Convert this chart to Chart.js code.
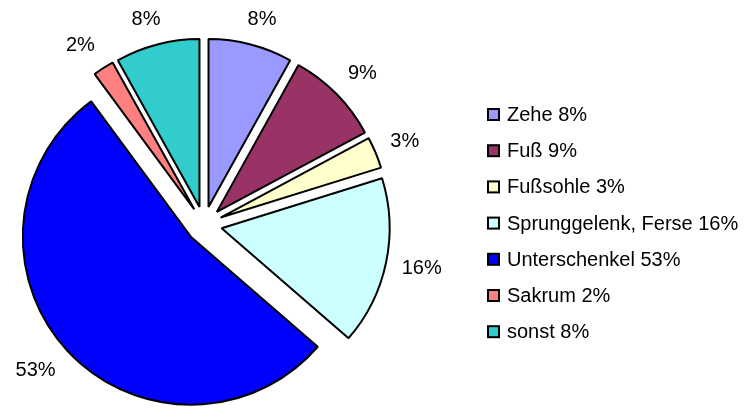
<!DOCTYPE html>
<html>
<head>
<meta charset="utf-8">
<script src="https://cdn.jsdelivr.net/npm/chart.js@4/dist/chart.umd.min.js"></script>
<style>
  body { margin: 0; background: #fff; }
</style>
</head>
<body>
<canvas id="chart" width="747" height="409"></canvas>
<script>
// Verletzungsorte - Anteile

const labels = ['Zehe', 'Fuß', 'Fußsohle', 'Sprunggelenk, Ferse', 'Unterschenkel', 'Sakrum', 'sonst']
const values = [8, 9, 3, 16, 53, 2, 8]
const colors = ['#9999FF', '#993366', '#FFFFCC', '#CCFFFF', '#0000FF', '#FF8080', '#33CCCC']

const FONT = '20px "Liberation Sans", Arial, sans-serif'
const EXPLODE = 18   // px every slice is pulled out from the center

// pull each slice out along its mid angle (excel style "exploded" pie)
const explodePlugin = {
    id: 'explode',
    beforeDatasetsDraw(chart) {
        const area = chart.chartArea
        const cx = (area.left + area.right) / 2
        const cy = (area.top + area.bottom) / 2
        chart.getDatasetMeta(0).data.forEach(arc => {
            const mid = (arc.startAngle + arc.endAngle) / 2
            arc.x = cx + Math.cos(mid) * EXPLODE
            arc.y = cy + Math.sin(mid) * EXPLODE
        })
    }
}

// percent labels outside the slices + legend on the right
const labelPlugin = {
    id: 'pieLabels',
    afterDraw(chart) {
        const ctx = chart.ctx
        const arcs = chart.getDatasetMeta(0).data
        const clamp = v => Math.max(-1, Math.min(1, v))
        ctx.save()
        ctx.font = FONT
        ctx.fillStyle = '#000'
        ctx.textAlign = 'center'
        ctx.textBaseline = 'middle'
        arcs.forEach((arc, i) => {
            const mid = (arc.startAngle + arc.endAngle) / 2
            const dx = Math.cos(mid), dy = Math.sin(mid)
            const r = arc.outerRadius + 16
            const text = values[i] + '%'
            const w = ctx.measureText(text).width
            const x = arc.x + dx * r + clamp(2 * dx) * w / 2
            const y = arc.y + dy * r + clamp(1.5 * dy) * 9
            ctx.fillText(text, x, y)
        })

        // legend
        ctx.textAlign = 'left'
        labels.forEach((name, i) => {
            const y = 114.5 + i * 36.2
            ctx.fillStyle = colors[i]
            ctx.fillRect(488, y - 5.5, 11, 11)
            ctx.lineWidth = 2
            ctx.strokeStyle = '#000'
            ctx.strokeRect(488, y - 5.5, 11, 11)
            ctx.fillStyle = '#000'
            ctx.fillText(name + ' ' + values[i] + '%', 507, y + 1)
        })
        ctx.restore()
    }
}

const chart = new Chart(document.getElementById('chart'), {
    type: 'pie',
    data: {
        labels: labels,
        datasets: [{
            data: values,
            backgroundColor: colors,
            borderColor: '#000',
            borderWidth: 2
        }]
    },
    options: {
        responsive: false,
        animation: false,
        radius: 168,
        layout: { padding: { left: 0, right: 339, top: 40, bottom: 0 } },
        plugins: {
            legend: { display: false },
            tooltip: { enabled: false }
        }
    },
    plugins: [explodePlugin, labelPlugin]
})
</script>
</body>
</html>
